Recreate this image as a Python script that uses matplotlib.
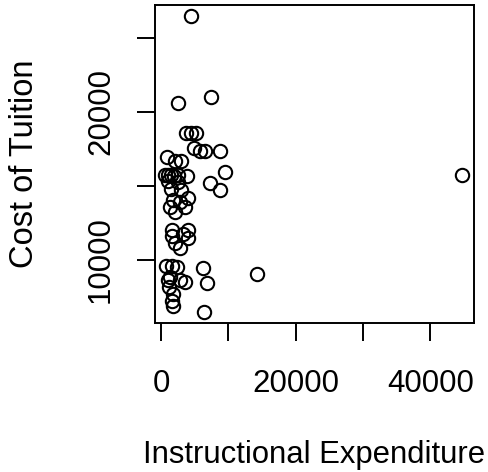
import matplotlib
matplotlib.use("Agg")
from matplotlib import pyplot as plt

plt.rcParams['font.family'] = ['Liberation Sans', 'DejaVu Sans']

# instructional expenditure vs cost of tuition
expend = [4460, 2530, 7430, 3720, 4460, 5200, 4900, 5800, 6540, 8770,
          890, 2080, 2970, 590, 1040, 1490, 1930, 2530, 3860, 9510,
          44730, 1040, 2530, 7280, 8770, 1490, 2970, 4010, 1780, 2820,
          1340, 3570, 2080, 1640, 4010, 1640, 3270, 4010, 2080, 2820,
          740, 1640, 2380, 6240, 14270, 1040, 2820, 3570, 6840, 1190,
          1780, 1640, 1780, 6390, 1340]
tuition = [26470, 20590, 20990, 18560, 18560, 18560, 17550, 17350, 17350, 17350,
           16940, 16670, 16670, 15720, 15720, 15720, 15660, 15720, 15660, 15930,
           15720, 15320, 15250, 15180, 14710, 14780, 14710, 14170, 14030, 13900,
           13560, 13560, 13220, 12010, 12010, 11600, 11740, 11470, 11130, 10790,
           9570, 9570, 9510, 9440, 9030, 8630, 8630, 8490, 8430, 8160,
           7680, 7210, 6870, 6470, 8830]

xticks = [0, 10000, 20000, 30000, 40000]
xtick_labels = ['0', '', '20000', '', '40000']
yticks = [10000, 15000, 20000, 25000]
ytick_labels = ['10000', '', '20000', '']

fig = plt.figure(figsize=(4.88, 4.72), dpi=100)
ax = fig.add_axes([155/488, 1-323/472, 319/488, 318/472])

ax.plot(expend, tuition, 'o', mfc='none', mec='black', ms=9.6, mew=1.5)

ax.set_xlim(-890, 46500)
ax.set_ylim(5720, 27210)

ax.set_xticks(xticks)
ax.set_xticklabels(xtick_labels)
ax.set_yticks(yticks)
ax.set_yticklabels(ytick_labels, rotation=90, va='center')

for s in ax.spines.values():
    s.set_linewidth(1.4)
ax.tick_params(direction='out', length=13, width=1.4, labelsize=22.5)
ax.tick_params(axis='x', pad=20)
ax.tick_params(axis='y', pad=15)

ax.set_xlabel('Instructional Expenditure', fontsize=22.3, labelpad=30)
ax.set_ylabel('Cost of Tuition', fontsize=23.5, labelpad=33)

fig.savefig('out.png', dpi=100)
